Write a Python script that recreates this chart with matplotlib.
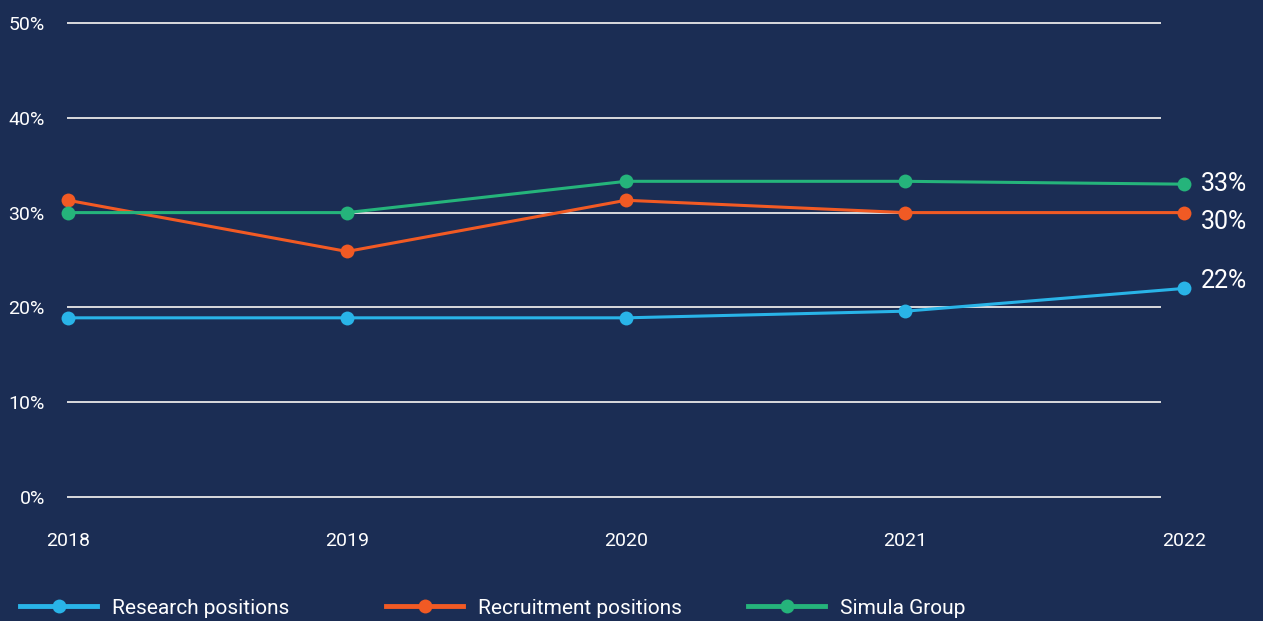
import matplotlib.pyplot as plt
import matplotlib.transforms as mtransforms
import numpy as np

years = ['2018', '2019', '2020', '2021', '2022']
research = [18.9, 18.9, 18.9, 19.6, 22.0]
recruitment = [31.3, 25.9, 31.3, 30.0, 30.0]
simula = [30.0, 30.0, 33.3, 33.3, 33.0]
end_labels = ['22%', '30%', '33%']

bg = '#1b2d54'
c_research = '#29b4e8'
c_recruit = '#f15a24'
c_simula = '#25b47b'

plt.rcParams['font.family'] = ['Roboto', 'DejaVu Sans']

W, H = 1263, 621
fig = plt.figure(figsize=(W / 100, H / 100), dpi=100, facecolor=bg)
# axes box = gridline extent, in pixels
ax = fig.add_axes([67 / W, (621 - 498) / H, (1161 - 67) / W, (498 - 22) / H])
ax.set_facecolor(bg)

x = np.arange(len(years))

series = [(research, c_research, 'Research positions'),
          (recruitment, c_recruit, 'Recruitment positions'),
          (simula, c_simula, 'Simula Group')]
handles = []
for vals, col, lab in series:
    h, = ax.plot(x, vals, color=col, lw=2.2, marker='o', markersize=10,
                 markeredgewidth=0, clip_on=False, label=lab, zorder=3)
    handles.append(h)

# end labels
offsets = [5, -7, 0]
for (vals, col, lab), txt, off in zip(series, end_labels, offsets):
    ax.annotate(txt, (x[-1], vals[-1]), xytext=(12, off), textcoords='offset points',
                color='white', fontsize=18, va='center', ha='left', annotation_clip=False)

ax.set_yticks(np.arange(0, 51, 10))
ax.set_yticklabels([f'{v}%' for v in range(0, 51, 10)])
ax.set_xticks([])

unit = (1184 - 68) / 4.0
ax.set_xlim(-1 / unit, (1161 - 68) / unit)
ax.set_ylim(-1 / 9.48, 50 + 1 / 9.48)

# year labels as text, the last category sits outside the gridlines
trans = mtransforms.blended_transform_factory(ax.transData, ax.transAxes)
for xi, yr in zip(x, years):
    ax.text(xi, -0.09, yr, transform=trans, ha='center', va='center',
            color='white', fontsize=14, clip_on=False)

ax.tick_params(axis='y', length=0, pad=16, labelsize=14, labelcolor='white')
ax.grid(axis='y', color='#e8e8e8', lw=1.3)
ax.set_axisbelow(True)
for s in ax.spines.values():
    s.set_visible(False)

# legend entries, one per column
leg_x = [20, 386, 748]
for h, lx in zip(handles, leg_x):
    leg = fig.legend([h], [h.get_label()], loc='center left',
                     bbox_to_anchor=(lx / W, (621 - 608) / H), frameon=False,
                     borderpad=0, borderaxespad=0, handlelength=3.7, handletextpad=0.7,
                     fontsize=15, labelcolor='white')
    for lh in leg.legend_handles:
        lh.set_linewidth(3.5)

fig.savefig('out.png', dpi=100, facecolor=bg)
